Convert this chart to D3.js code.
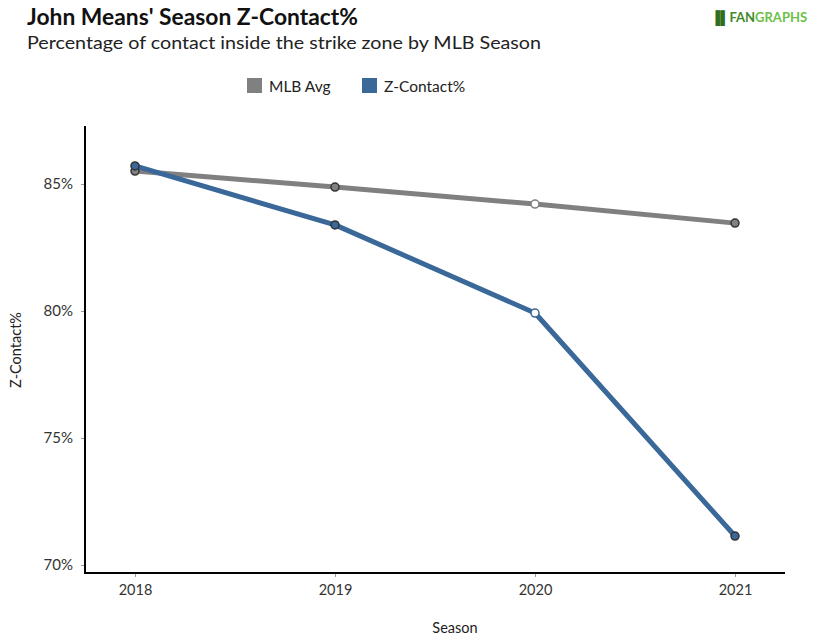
<!DOCTYPE html>
<html><head><meta charset="utf-8">
<script src="https://cdn.jsdelivr.net/npm/d3@7"></script>
<style>body{margin:0;background:#fff}svg{display:block}</style>
</head><body>
<script>
const seasons = [2018, 2019, 2020, 2021];
const mlbAvg = [85.51, 84.88, 84.21, 83.46];
const zContact = [85.71, 83.39, 79.92, 71.14];
const yTicks = [70, 75, 80, 85];
const hollow = [false, false, true, false];

const W = 815, H = 641;
const svg = d3.select("body").append("svg").attr("width", W).attr("height", H);
const font = "Lato, 'Open Sans', sans-serif";

const x = d3.scalePoint().domain(seasons).range([135, 735]);
const y = d3.scaleLinear().domain([70, 85]).range([565, 184]);
const yTop = y.invert(126), yBot = y.invert(573);

svg.append("text").attr("x", 27).attr("y", 25).attr("font-family", font).attr("font-weight", 700)
  .attr("font-size", 22).attr("fill", "#111").attr("textLength", 331).attr("lengthAdjust", "spacingAndGlyphs")
  .text("John Means' Season Z-Contact%");
svg.append("text").attr("x", 27).attr("y", 49).attr("font-family", font)
  .attr("font-size", 18).attr("fill", "#222").attr("textLength", 514).attr("lengthAdjust", "spacingAndGlyphs")
  .text("Percentage of contact inside the strike zone by MLB Season");

// logo
const logo = svg.append("text").attr("x", 711).attr("y", 22).attr("font-family", font).attr("font-weight", 700).attr("font-size", 13);
logo.append("tspan").attr("fill", "#2f6e1f").text("\u2590\u258C");
logo.append("tspan").attr("fill", "#3f8a2a").text("FAN");
logo.append("tspan").attr("fill", "#6cbf4a").text("GRAPHS");

// legend
const legend = [{name: "MLB Avg", color: "#808080", x: 247}, {name: "Z-Contact%", color: "#3a6898", x: 362}];
legend.forEach(l => {
  svg.append("rect").attr("x", l.x).attr("y", 78).attr("width", 15).attr("height", 15).attr("fill", l.color);
  svg.append("text").attr("x", l.x + 22).attr("y", 92).attr("font-family", font).attr("font-size", 15.5).attr("fill", "#222").text(l.name);
});

// axes
const yAxis = d3.axisLeft(y).tickValues(yTicks).tickFormat(d => d + "%").tickSize(4).tickPadding(8);
const gy = svg.append("g").attr("transform", "translate(85,0)").call(yAxis);
gy.select(".domain").remove();
gy.selectAll(".tick line").attr("stroke", "#999");
gy.selectAll(".tick text").attr("font-family", font).attr("font-size", 15).attr("fill", "#333");

const xAxis = d3.axisBottom(x).tickSize(4).tickPadding(8);
const gx = svg.append("g").attr("transform", "translate(0,573)").call(xAxis);
gx.select(".domain").remove();
gx.selectAll(".tick line").attr("stroke", "#999");
gx.selectAll(".tick text").attr("font-family", font).attr("font-size", 14.5).attr("fill", "#333");

svg.append("line").attr("x1", 85).attr("x2", 85).attr("y1", y(yTop)).attr("y2", y(yBot) + 1).attr("stroke", "#000").attr("stroke-width", 2);
svg.append("line").attr("x1", 84).attr("x2", 785).attr("y1", y(yBot)).attr("y2", y(yBot)).attr("stroke", "#000").attr("stroke-width", 2);

svg.append("text").attr("transform", "translate(21,350) rotate(-90)").attr("text-anchor", "middle")
  .attr("font-family", font).attr("font-size", 14.5).attr("fill", "#222").text("Z-Contact%");
svg.append("text").attr("x", 455).attr("y", 633).attr("text-anchor", "middle")
  .attr("font-family", font).attr("font-size", 14.5).attr("fill", "#222").text("Season");

const line = d3.line().x((d, i) => x(seasons[i])).y(d => y(d));
const series = [{vals: mlbAvg, color: "#808080"}, {vals: zContact, color: "#3a6898"}];
series.forEach(s => {
  svg.append("path").attr("d", line(s.vals)).attr("fill", "none").attr("stroke", s.color).attr("stroke-width", 5).attr("stroke-linejoin", "round").attr("stroke-linecap", "round");
});
series.forEach(s => {
  svg.selectAll(null).data(s.vals).enter().append("circle")
    .attr("cx", (d, i) => x(seasons[i])).attr("cy", d => y(d)).attr("r", 4)
    .attr("fill", (d, i) => hollow[i] ? "#fff" : s.color)
    .attr("stroke", (d, i) => hollow[i] ? s.color : "#333").attr("stroke-width", 1.5);
});
</script>
</body></html>
